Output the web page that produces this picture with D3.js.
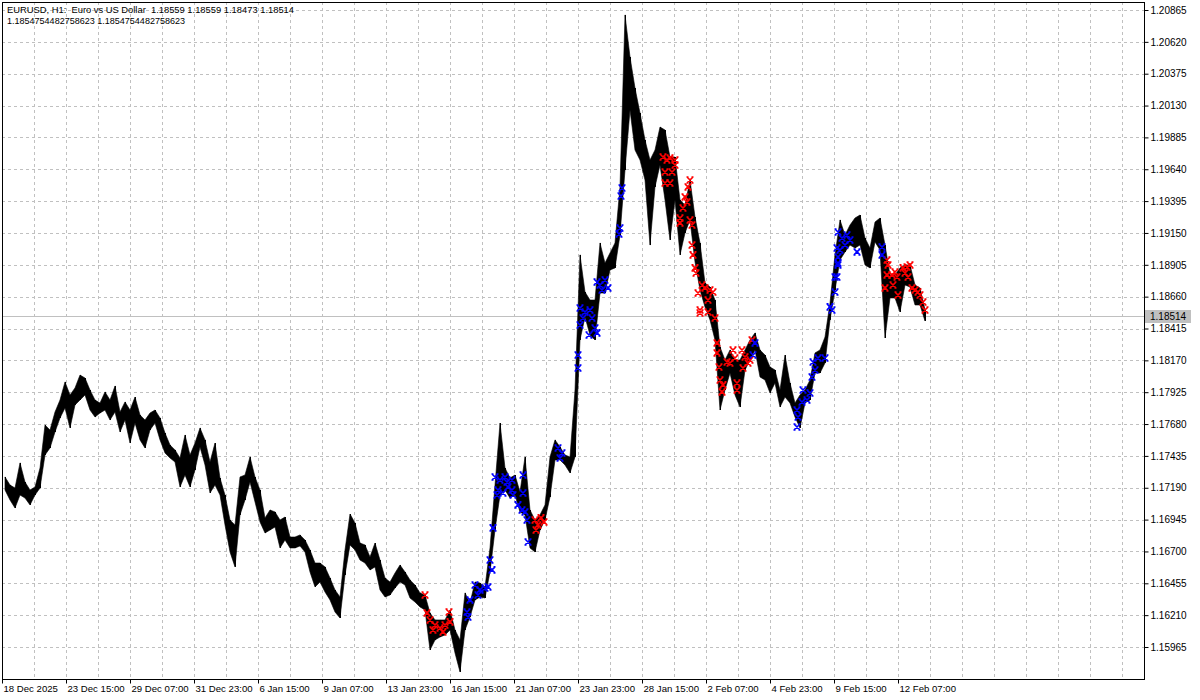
<!DOCTYPE html>
<html><head><meta charset="utf-8">
<script src="https://cdn.jsdelivr.net/npm/d3@7"></script>
<style>
html,body{margin:0;padding:0;background:#fff;}
svg{display:block;}
text{font-family:"Liberation Sans",Arial,sans-serif;font-size:10px;fill:#000;}
</style></head><body>
<svg id="c" width="1200" height="700"></svg>
<script>
const symbolTitle = "EURUSD, H1:  Euro vs US Dollar  1.18559 1.18559 1.18473 1.18514";
const indicatorLine = "1.1854754482758623 1.1854754482758623";
const lastPrice = 1.18514;

const priceTicks = [1.20865,1.20620,1.20375,1.20130,1.19885,1.19640,1.19395,1.19150,1.18905,1.18660,1.18415,1.18170,1.17925,1.17680,1.17435,1.17190,1.16945,1.16700,1.16455,1.16210,1.15965];
const timeLabels = ["18 Dec 2025","23 Dec 15:00","29 Dec 07:00","31 Dec 23:00","6 Jan 15:00","9 Jan 07:00","13 Jan 23:00","16 Jan 15:00","21 Jan 07:00","23 Jan 23:00","28 Jan 15:00","2 Feb 07:00","4 Feb 23:00","9 Feb 15:00","12 Feb 07:00"];
const barsPerLabel = 64;
const barsPerGrid = 32;
const totalBars = 1141;

// sampled H1 bars: every 5th bar, starting at bar 3
const firstBar = 3, sampleStep = 5;
const highs = [1.17273,1.17211,1.17188,1.17381,1.17234,1.17173,1.17196,1.17342,1.17673,1.17634,
1.17773,1.17865,1.18004,1.17904,1.17958,1.18057,1.18034,1.17942,1.17865,1.17842,
1.17927,1.17865,1.17973,1.17773,1.17850,1.17788,1.17888,1.17750,1.17711,1.17765,
1.17788,1.17727,1.17611,1.17519,1.17481,1.17419,1.17596,1.17442,1.17534,1.17650,
1.17558,1.17388,1.17534,1.17265,1.17134,1.16942,1.16904,1.17273,1.17288,1.17427,
1.17273,1.17173,1.16958,1.17019,1.17004,1.16942,1.16965,1.16811,1.16811,1.16827,
1.16788,1.16711,1.16611,1.16611,1.16581,1.16496,1.16404,1.16350,1.16711,1.16988,
1.16919,1.16765,1.16750,1.16658,1.16765,1.16634,1.16496,1.16465,1.16534,1.16596,
1.16542,1.16481,1.16442,1.16381,1.16365,1.16227,1.16173,1.16173,1.16173,1.16250,
1.16096,1.16019,1.16381,1.16304,1.16465,1.16457,1.16427,1.16727,1.17211,1.17688,
1.17342,1.17265,1.17288,1.17157,1.17427,1.17019,1.16942,1.16981,1.17058,1.17427,
1.17558,1.17504,1.17442,1.17427,1.17942,1.18981,1.18696,1.18634,1.18634,1.19073,
1.18919,1.18996,1.19073,1.19504,1.20827,1.20504,1.20265,1.20073,1.19865,1.19711,
1.19788,1.19965,1.19942,1.19734,1.19734,1.19404,1.19365,1.19557,1.19273,1.19073,
1.18765,1.18734,1.18634,1.18273,1.18173,1.18250,1.18173,1.18173,1.18250,1.18327,
1.18381,1.18250,1.18211,1.18119,1.18096,1.17942,1.18211,1.17996,1.17842,1.17904,
1.17942,1.18019,1.18227,1.18250,1.18350,1.18611,1.18981,1.19250,1.19134,1.19211,
1.19265,1.19288,1.19111,1.19034,1.19234,1.19265,1.19057,1.18827,1.18827,1.18881,
1.18904,1.18904,1.18750,1.18727,1.18559];
const lows = [1.17173,1.17096,1.17034,1.17134,1.17111,1.17058,1.17134,1.17188,1.17442,1.17496,
1.17619,1.17727,1.17804,1.17650,1.17827,1.17865,1.17904,1.17788,1.17734,1.17765,
1.17788,1.17711,1.17773,1.17619,1.17711,1.17534,1.17688,1.17558,1.17496,1.17634,
1.17688,1.17558,1.17458,1.17419,1.17388,1.17196,1.17288,1.17196,1.17327,1.17504,
1.17365,1.17150,1.17211,1.17134,1.16904,1.16696,1.16581,1.16981,1.17096,1.17234,
1.17081,1.16927,1.16842,1.16865,1.16888,1.16727,1.16788,1.16727,1.16727,1.16742,
1.16696,1.16542,1.16427,1.16465,1.16388,1.16327,1.16234,1.16188,1.16519,1.16750,
1.16711,1.16634,1.16611,1.16558,1.16581,1.16404,1.16350,1.16365,1.16419,1.16465,
1.16442,1.16342,1.16311,1.16273,1.16250,1.15942,1.16019,1.16042,1.16058,1.16096,
1.15919,1.15773,1.16096,1.16196,1.16327,1.16350,1.16342,1.16542,1.16865,1.17134,
1.17173,1.17111,1.17134,1.17004,1.16981,1.16727,1.16696,1.16865,1.16942,1.17119,
1.17404,1.17404,1.17365,1.17304,1.17427,1.18327,1.18504,1.18365,1.18327,1.18688,
1.18688,1.18865,1.18881,1.19134,1.19634,1.20096,1.19788,1.19711,1.19557,1.19057,
1.19504,1.19673,1.19404,1.19096,1.19404,1.18981,1.19150,1.19250,1.18927,1.18711,
1.18581,1.18481,1.18327,1.17788,1.17942,1.18073,1.17904,1.17811,1.18096,1.18173,
1.18250,1.18042,1.18019,1.17919,1.17996,1.17811,1.17888,1.17842,1.17734,1.17650,
1.17842,1.17865,1.18073,1.18073,1.18150,1.18481,1.18711,1.18942,1.19004,1.19057,
1.19034,1.19057,1.18904,1.18881,1.19081,1.19019,1.18342,1.18650,1.18650,1.18542,
1.18750,1.18734,1.18596,1.18596,1.18473];

// signal markers (bar index, price)
const sellBars = [423,425,428,433,438,443,448,431,441,447,533,536,539,542,534,
661,665,668,673,663,670,663,668,673,688,686,683,685,681,678,678,688,690,690,691,693,694,700,703,696,708,711,706,698,698,706,713,715,715,717,718,721,720,725,728,731,733,735,735,
740,743,746,741,748,750,
885,886,885,883,890,893,895,891,896,901,905,908,903,910,913,916,918,921,923,906];
const sellPrices = [1.16365,1.16227,1.16173,1.16134,1.16111,1.16134,1.16158,1.16096,1.16081,1.16234,1.16942,1.16904,1.16958,1.16927,1.16865,
1.19734,1.19711,1.19727,1.19711,1.19619,1.19619,1.19534,1.19534,1.19673,1.19557,1.19504,1.19427,1.19388,1.19342,1.19265,1.19227,1.19250,1.19211,1.19057,1.18981,1.18881,1.18842,1.18750,1.18727,1.18688,1.18711,1.18696,1.18634,1.18557,1.18534,1.18542,1.18496,1.18304,1.18227,1.18119,1.18019,1.17981,1.17927,1.18157,1.18150,1.18250,1.18188,1.17996,1.17942,
1.18250,1.18196,1.18150,1.18111,1.18173,1.18327,
1.18942,1.18904,1.18827,1.18727,1.18827,1.18850,1.18811,1.18750,1.18673,1.18881,1.18888,1.18904,1.18842,1.18727,1.18711,1.18696,1.18673,1.18619,1.18557,1.18811];
const buyBars = [465,466,468,473,478,483,476,486,488,490,491,493,498,503,496,501,506,510,495,505,510,511,516,520,523,525,521,521,526,
556,560,558,576,576,578,583,588,581,590,578,593,587,595,595,598,603,606,600,620,619,618,617,
753,751,795,796,795,800,805,808,801,810,813,811,816,823,828,830,833,833,835,836,836,840,843,838,845,848,836,836,835,855,880,880];
const buyPrices = [1.16234,1.16196,1.16327,1.16442,1.16404,1.16419,1.16365,1.16427,1.16634,1.16558,1.16881,1.17273,1.17250,1.17273,1.17173,1.17150,1.17196,1.17250,1.17134,1.17234,1.17173,1.17134,1.17058,1.17019,1.17004,1.16942,1.17288,1.17150,1.16773,
1.17496,1.17457,1.17419,1.18211,1.18111,1.18573,1.18542,1.18557,1.18496,1.18496,1.18442,1.18419,1.18365,1.18381,1.18773,1.18750,1.18788,1.18727,1.18711,1.19496,1.19434,1.19188,1.19142,
1.18304,1.18211,1.17788,1.17734,1.17657,1.17850,1.17865,1.17919,1.17942,1.18042,1.18096,1.18157,1.18188,1.18188,1.18581,1.18557,1.18696,1.18811,1.19034,1.18919,1.19157,1.19111,1.19057,1.19019,1.19134,1.19096,1.18965,1.18904,1.18811,1.19004,1.19042,1.18981];

const svg = d3.select("#c");
const L = 2, R = 1144, T = 2, B = 679;
const x = d3.scaleLinear().domain([0, totalBars]).range([2, 1143]);
const y = d3.scaleLinear().domain([1.15965, 1.20865]).range([647, 10]);

svg.append("rect").attr("width",1200).attr("height",700).attr("fill","#fff");

// grid
const grid = svg.append("g").attr("stroke","#c0c0c0").attr("stroke-dasharray","3,3").attr("stroke-width",1);
grid.selectAll("line.h").data(priceTicks).join("line").attr("class","h")
  .attr("x1",L).attr("x2",R).attr("y1",d=>Math.round(y(d))+0.5).attr("y2",d=>Math.round(y(d))+0.5);
const gridBars = d3.range(barsPerGrid, totalBars, barsPerGrid);
grid.selectAll("line.v").data(gridBars).join("line").attr("class","v")
  .attr("y1",T).attr("y2",B).attr("x1",d=>Math.round(x(d))+0.5).attr("x2",d=>Math.round(x(d))+0.5);

// last price line
svg.append("line").attr("x1",L).attr("x2",R)
  .attr("y1",Math.round(y(lastPrice))+0.5).attr("y2",Math.round(y(lastPrice))+0.5)
  .attr("stroke","#c0c0c0").attr("stroke-width",1);

// bars
const samples = highs.map((h,i)=>({b:firstBar+i*sampleStep,h:h,l:lows[i]}));
svg.append("path").datum(samples)
  .attr("d", d3.area().x(d=>x(d.b)).y0(d=>y(d.l)).y1(d=>y(d.h)))
  .attr("fill","#000").attr("stroke","#000").attr("stroke-width",0.6).attr("stroke-linejoin","round");
svg.append("g").selectAll("line").data(samples).join("line")
  .attr("x1",d=>Math.round(x(d.b))+0.5).attr("x2",d=>Math.round(x(d.b))+0.5)
  .attr("y1",d=>y(d.h)).attr("y2",d=>y(d.l)).attr("stroke","#000").attr("stroke-width",1);

// markers
const cross = "M-3,-3L3,3M3,-3L-3,3M-3.5,-3H-1.5M1.5,-3H3.5M-3.5,3H-1.5M1.5,3H3.5";
function drawMarks(bars, prices, color){
  svg.append("g").selectAll("path").data(bars.map((b,i)=>({b:b,p:prices[i]}))).join("path")
    .attr("transform",d=>`translate(${x(d.b)},${y(d.p)})`)
    .attr("d",cross).attr("fill","none").attr("stroke",color).attr("stroke-width",1.6);
}
drawMarks(sellBars, sellPrices, "#ff0000");
drawMarks(buyBars, buyPrices, "#0000ff");

// frame
svg.append("rect").attr("x",L+0.5).attr("y",T+0.5).attr("width",R-L).attr("height",B-T)
  .attr("fill","none").attr("stroke","#000").attr("stroke-width",1);

// right axis
const ya = d3.axisRight(y).tickValues(priceTicks).tickFormat(d3.format(".5f")).tickSize(4).tickPadding(2);
const gy = svg.append("g").attr("transform",`translate(${R+0.5},0)`).call(ya);
gy.select(".domain").remove();
gy.selectAll("text").style("font-family",'"Liberation Sans",Arial,sans-serif').style("font-size","10px").attr("fill","#000");
gy.selectAll(".tick line").attr("stroke","#000");

// last price label
const ly = Math.round(y(lastPrice));
svg.append("rect").attr("x",R+1).attr("y",ly-6).attr("width",46).attr("height",13).attr("fill","#c0c0c0");
svg.append("text").attr("x",R+6).attr("y",ly+4).attr("fill","#fff").text(d3.format(".5f")(lastPrice));

// bottom axis
const labelBars = timeLabels.map((t,i)=>i*barsPerLabel);
const xa = d3.axisBottom(x).tickValues(labelBars).tickFormat((d,i)=>timeLabels[i]).tickSize(4).tickPadding(2);
const gx = svg.append("g").attr("transform",`translate(0,${B+0.5})`).call(xa);
gx.select(".domain").remove();
gx.selectAll("text").attr("text-anchor","start").attr("dx",1)
  .style("font-family",'"Liberation Sans",Arial,sans-serif').style("font-size","9.6px").attr("fill","#000");
gx.selectAll(".tick line").attr("stroke","#000");

// header
svg.append("text").attr("x",7).attr("y",13).style("white-space","pre").style("font-size","9.4px")
  .attr("textLength",287).attr("lengthAdjust","spacingAndGlyphs").text(symbolTitle);
svg.append("text").attr("x",7).attr("y",24).style("white-space","pre").style("font-size","9.4px")
  .attr("textLength",178).attr("lengthAdjust","spacingAndGlyphs").text(indicatorLine);
</script>
</body></html>
